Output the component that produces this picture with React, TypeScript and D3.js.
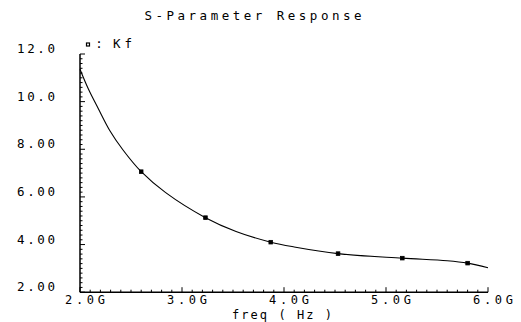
import React from "react";
import * as d3 from "d3";

const curveFreq = [2.0, 2.08, 2.18, 2.29, 2.42, 2.6, 2.84, 3.23, 3.53, 3.87, 4.1, 4.53, 5.16, 5.6, 5.8, 6.0];
const curveKf = [11.36, 10.55, 9.7, 8.8, 7.98, 7.06, 6.18, 5.13, 4.55, 4.1, 3.9, 3.62, 3.43, 3.32, 3.22, 3.03];
const markerFreq = [2.6, 3.23, 3.87, 4.53, 5.16, 5.8];
const markerKf = [7.06, 5.13, 4.1, 3.62, 3.43, 3.22];
const yTicks = [2, 4, 6, 8, 10, 12];
const yTickLabels = ["2.00", "4.00", "6.00", "8.00", "10.0", "12.0"];
const xTicks = [2, 3, 4, 5, 6];
const xTickLabels = ["2.0G", "3.0G", "4.0G", "5.0G", "6.0G"];

const FONT = "'DejaVu Sans Mono', monospace";

export default function App() {
  const x = d3.scaleLinear().domain([2, 6]).range([80, 488]);
  const y = d3.scaleLinear().domain([2, 12]).range([292.2, 54]);
  const line = d3
    .line<number>()
    .x((_, i) => x(curveFreq[i]))
    .y((d) => y(d))
    .curve(d3.curveCatmullRom.alpha(0.5));
  const yMinor = d3.range(0, 51).map((i) => 2 + i * 0.2);
  const xMinor = d3.range(0, 41).map((i) => 2 + i * 0.1);
  const x0 = x(2);
  const y0 = y(2);
  return (
    <svg width={521} height={322} style={{ position: "absolute", left: 0, top: 0, background: "#fff" }}>
      <text x={253} y={20} fontFamily={FONT} fontSize={12.5} textAnchor="middle" textLength={217} lengthAdjust="spacing" fill="#000">
        S-Parameter Response
      </text>
      {/* legend */}
      <rect x={86.5} y={43} width={3} height={3} fill="none" stroke="#000" strokeWidth={1.2} />
      <text x={99} y={48} fontFamily={FONT} fontSize={12.5} textAnchor="middle" fill="#000">:</text>
      <text x={113} y={48} fontFamily={FONT} fontSize={12.5} textLength={19} lengthAdjust="spacing" fill="#000">Kf</text>
      {/* axes */}
      <line x1={x0} y1={y(12)} x2={x0} y2={y0} stroke="#000" strokeWidth={1.5} />
      <line x1={x0} y1={y0} x2={x(6)} y2={y0} stroke="#000" strokeWidth={1.5} />
      {yMinor.map((v, i) => (
        <line key={"ym" + i} x1={x0} x2={x0 + (i % 10 === 0 ? 5 : 2.5)} y1={y(v)} y2={y(v)} stroke="#000" strokeWidth={1} />
      ))}
      {xMinor.map((v, i) => (
        <line key={"xm" + i} x1={x(v)} x2={x(v)} y1={y0} y2={y0 - (i % 10 === 0 ? 5 : 2.5)} stroke="#000" strokeWidth={1} />
      ))}
      {yTicks.map((v, i) => (
        <text key={"yl" + i} x={55} y={y(v) - 1} fontFamily={FONT} fontSize={12.5} textAnchor="end" textLength={38} lengthAdjust="spacing" fill="#000">
          {yTickLabels[i]}
        </text>
      ))}
      {xTicks.map((v, i) => (
        <text key={"xl" + i} x={x(v) + 5} y={304} fontFamily={FONT} fontSize={12} textAnchor="middle" textLength={40} lengthAdjust="spacing" fill="#000">
          {xTickLabels[i]}
        </text>
      ))}
      <text x={282} y={319} fontFamily={FONT} fontSize={12} textAnchor="middle" textLength={100} lengthAdjust="spacing" fill="#000">
        freq ( Hz )
      </text>
      <path d={line(curveKf) || ""} fill="none" stroke="#000" strokeWidth={1.1} />
      {markerKf.map((v, i) => (
        <rect key={"mk" + i} x={x(markerFreq[i]) - 1.8} y={y(v) - 1.8} width={3.6} height={3.6} fill="#000" stroke="#000" strokeWidth={0.8} />
      ))}
    </svg>
  );
}
